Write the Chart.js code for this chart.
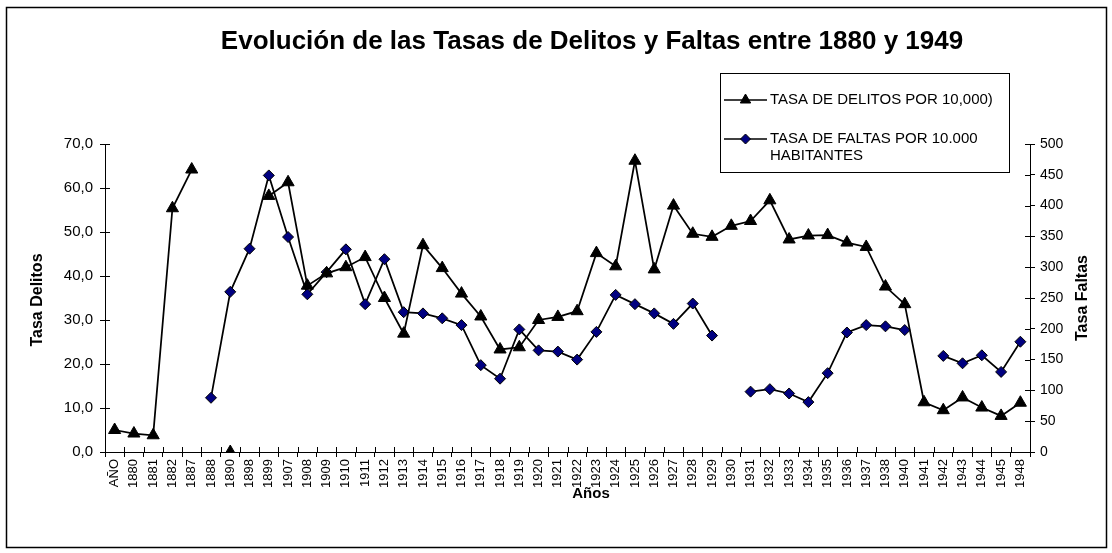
<!DOCTYPE html>
<html>
<head>
<meta charset="utf-8">
<script src="https://cdn.jsdelivr.net/npm/chart.js@4.4.0/dist/chart.umd.min.js"></script>
<style>
  body { margin: 0; background: #fff; }
  #wrap { width: 1112px; height: 553px; }
</style>
</head>
<body>
<div id="wrap"><canvas id="myChart" width="1112" height="553"></canvas></div>
<script>
const years = ['AÑO', '1880', '1881', '1882', '1887', '1888', '1890', '1898', '1899', '1907',
    '1908', '1909', '1910', '1911', '1912', '1913', '1914', '1915', '1916', '1917',
    '1918', '1919', '1920', '1921', '1922', '1923', '1924', '1925', '1926', '1927',
    '1928', '1929', '1930', '1931', '1932', '1933', '1934', '1935', '1936', '1937',
    '1938', '1940', '1941', '1942', '1943', '1944', '1945', '1948'];

// TASA DE DELITOS POR 10,000 (left axis)
const delitos = [5.0, 4.2, 3.8, 55.4, 64.2, null, 0, null, 58.2, 61.3,
    37.8, 40.6, 42.0, 44.3, 35.0, 26.9, 47.0, 41.8, 36.0, 30.8,
    23.3, 23.8, 30.0, 30.7, 32.0, 45.2, 42.2, 66.2, 41.5, 56.0,
    49.6, 48.9, 51.4, 52.5, 57.2, 48.3, 49.2, 49.3, 47.6, 46.6,
    37.6, 33.6, 11.3, 9.5, 12.4, 10.1, 8.2, 11.2];

// TASA DE FALTAS POR 10.000 HABITANTES (right axis)
const faltas = [null, null, null, null, null, 88, 260, 330, 449, 349,
    256, 292, 329, 240, 313, 227, 225, 217, 206, 141,
    119, 199, 165, 163, 150, 195, 255, 240, 225, 208,
    241, 189, null, 98, 102, 95, 81, 128, 194, 206,
    204, 198, null, 156, 144, 157, 130, 179];

const leftTicks = { min: 0, max: 70, step: 10 };
const rightTicks = { min: 0, max: 500, step: 50 };

const FONT = '"Liberation Sans", Arial, sans-serif';

const decoration = {
    id: 'decoration',
    afterDraw(chart) {
        const ctx = chart.ctx;
        const x = chart.scales.x;
        const yl = chart.scales.y;
        const yr = chart.scales.y1;
        ctx.save();
        ctx.strokeStyle = '#000';
        ctx.lineWidth = 1;

        // inner half of the crossing tick marks
        ctx.beginPath();
        const w = (x.right - x.left) / years.length;
        for (let i = 0; i <= years.length; i++) {
            const px = Math.round(x.left + i * w) + 0.5;
            ctx.moveTo(px, x.top);
            ctx.lineTo(px, x.top - 5);
        }
        yl.ticks.forEach(t => {
            const py = Math.round(yl.getPixelForValue(t.value)) + 0.5;
            ctx.moveTo(yl.right, py);
            ctx.lineTo(yl.right + 5, py);
        });
        yr.ticks.forEach(t => {
            const py = Math.round(yr.getPixelForValue(t.value)) + 0.5;
            ctx.moveTo(yr.left, py);
            ctx.lineTo(yr.left - 5, py);
        });
        ctx.stroke();

        // outer frame
        ctx.lineWidth = 1.5;
        ctx.strokeRect(6.5, 7.5, 1100, 540);

        // title
        ctx.fillStyle = '#000';
        ctx.textAlign = 'center';
        ctx.textBaseline = 'middle';
        ctx.font = 'bold 26px ' + FONT;
        ctx.fillText('Evolución de las Tasas de Delitos y Faltas entre 1880 y 1949', 592, 42);

        // axis titles
        ctx.font = 'bold 15px ' + FONT;
        ctx.fillText('Años', 591, 494);
        ctx.font = 'bold 16px ' + FONT;
        ctx.save();
        ctx.translate(38, 300);
        ctx.rotate(-Math.PI / 2);
        ctx.fillText('Tasa Delitos', 0, 0);
        ctx.restore();
        ctx.save();
        ctx.translate(1083, 298);
        ctx.rotate(-Math.PI / 2);
        ctx.fillText('Tasa Faltas', 0, 0);
        ctx.restore();

        // legend box
        ctx.lineWidth = 1;
        ctx.strokeStyle = '#000';
        ctx.strokeRect(720.5, 73.5, 289, 99);
        const entries = [
            { y: 100, style: 'triangle', radius: 6, fill: '#000', text: ['TASA DE DELITOS POR 10,000)'] },
            { y: 139, style: 'rectRot', radius: 5, fill: '#000080', text: ['TASA DE FALTAS POR 10.000', 'HABITANTES'] }
        ];
        ctx.font = '15px ' + FONT;
        ctx.textAlign = 'left';
        entries.forEach(e => {
            ctx.lineWidth = 1.5;
            ctx.beginPath();
            ctx.moveTo(724, e.y);
            ctx.lineTo(767, e.y);
            ctx.stroke();
            ctx.fillStyle = e.fill;
            ctx.lineWidth = 1;
            Chart.helpers.drawPoint(ctx, { pointStyle: e.style, radius: e.radius, borderWidth: 1, rotation: 0 }, 745.5, e.y);
            ctx.fillStyle = '#000';
            e.text.forEach((t, i) => ctx.fillText(t, 770, e.y + i * 17));
        });
        ctx.restore();
    }
};

const ref = document.getElementById('myChart').getContext('2d');
const chart = new Chart(ref, {
    type: 'line',
    data: {
        labels: years,
        datasets: [
            {
                label: 'TASA DE DELITOS POR 10,000)',
                data: delitos,
                yAxisID: 'y',
                borderColor: '#000',
                borderWidth: 1.75,
                pointStyle: 'triangle',
                pointRadius: 7,
                pointBackgroundColor: '#000',
                pointBorderColor: '#000',
                pointBorderWidth: 1,
                spanGaps: false,
                tension: 0
            },
            {
                label: 'TASA DE FALTAS POR 10.000 HABITANTES',
                data: faltas,
                yAxisID: 'y1',
                borderColor: '#000',
                borderWidth: 1.75,
                pointStyle: 'rectRot',
                pointRadius: 5.5,
                pointBackgroundColor: '#000080',
                pointBorderColor: '#000',
                pointBorderWidth: 1,
                spanGaps: false,
                tension: 0
            }
        ]
    },
    options: {
        responsive: false,
        animation: false,
        layout: { padding: { top: 144, left: 0, right: 0, bottom: 0 } },
        plugins: {
            legend: { display: false },
            title: { display: false },
            tooltip: { enabled: false }
        },
        scales: {
            x: {
                offset: true,
                afterFit: (s) => { s.height = 101; },
                grid: { offset: true, drawOnChartArea: false, drawTicks: true, tickLength: 5, color: '#000' },
                border: { color: '#000', width: 1 },
                ticks: {
                    autoSkip: false,
                    maxRotation: 90,
                    minRotation: 90,
                    padding: 2,
                    color: '#000',
                    font: { family: FONT, size: 13 }
                }
            },
            y: {
                position: 'left',
                min: leftTicks.min,
                max: leftTicks.max,
                afterFit: (s) => { s.width = 105; },
                grid: { drawOnChartArea: false, drawTicks: true, tickLength: 5, color: '#000' },
                border: { color: '#000', width: 1 },
                ticks: {
                    stepSize: leftTicks.step,
                    padding: 7,
                    color: '#000',
                    font: { family: FONT, size: 15 },
                    callback: (v) => v.toFixed(1).replace('.', ',')
                }
            },
            y1: {
                position: 'right',
                min: rightTicks.min,
                max: rightTicks.max,
                afterFit: (s) => { s.width = 82; },
                grid: { drawOnChartArea: false, drawTicks: true, tickLength: 5, color: '#000' },
                border: { color: '#000', width: 1 },
                ticks: {
                    stepSize: rightTicks.step,
                    padding: 5,
                    color: '#000',
                    font: { family: FONT, size: 14 }
                }
            }
        }
    },
    plugins: [decoration]
});
</script>
</body>
</html>
